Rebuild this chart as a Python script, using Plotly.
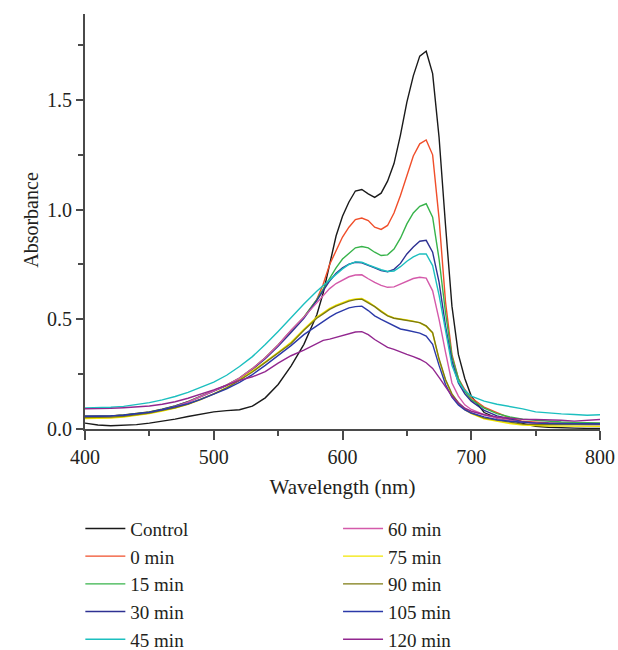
import plotly.graph_objects as go

wavelength = [400, 410, 420, 430, 440, 450, 460, 470, 480, 490, 500, 510, 520, 530, 540, 550, 560, 570,
              580, 585, 590, 595, 600, 605, 610, 615, 620, 625, 630, 635, 640, 645, 650, 655, 660, 665,
              670, 675, 680, 685, 690, 695, 700, 710, 720, 730, 740, 750, 760, 770, 780, 790, 800]

control = [0.027, 0.018, 0.015, 0.016, 0.020, 0.027, 0.035, 0.045, 0.057, 0.068, 0.078, 0.084, 0.088, 0.104,
           0.142, 0.203, 0.287, 0.386, 0.520, 0.620, 0.750, 0.880, 0.970, 1.035, 1.085, 1.092, 1.072, 1.056,
           1.075, 1.130, 1.210, 1.340, 1.490, 1.610, 1.700, 1.722, 1.620, 1.330, 0.930, 0.560, 0.340, 0.230,
           0.150, 0.075, 0.050, 0.042, 0.025, 0.012, 0.008, 0.005, 0.004, 0.003, 0.003]
min0 = [0.058, 0.058, 0.060, 0.064, 0.070, 0.078, 0.090, 0.105, 0.125, 0.150, 0.176, 0.200, 0.232, 0.275,
        0.325, 0.383, 0.448, 0.510, 0.590, 0.660, 0.750, 0.815, 0.875, 0.920, 0.955, 0.962, 0.950, 0.920,
        0.910, 0.928, 0.985, 1.065, 1.160, 1.245, 1.300, 1.318, 1.250, 0.960, 0.580, 0.340, 0.230, 0.180,
        0.142, 0.100, 0.075, 0.050, 0.035, 0.030, 0.028, 0.027, 0.026, 0.025, 0.025]
min15 = [0.058, 0.058, 0.060, 0.064, 0.070, 0.078, 0.090, 0.105, 0.125, 0.150, 0.176, 0.200, 0.232, 0.275,
         0.325, 0.383, 0.448, 0.510, 0.590, 0.640, 0.690, 0.735, 0.775, 0.800, 0.826, 0.832, 0.826, 0.806,
         0.791, 0.794, 0.820, 0.870, 0.935, 0.985, 1.015, 1.027, 0.966, 0.775, 0.530, 0.330, 0.230, 0.170,
         0.134, 0.095, 0.070, 0.055, 0.045, 0.040, 0.035, 0.032, 0.030, 0.028, 0.028]
min30 = [0.057, 0.057, 0.059, 0.063, 0.069, 0.077, 0.089, 0.104, 0.123, 0.148, 0.173, 0.198, 0.229, 0.271,
         0.320, 0.377, 0.440, 0.505, 0.585, 0.630, 0.675, 0.710, 0.735, 0.752, 0.760, 0.758, 0.748, 0.735,
         0.722, 0.717, 0.728, 0.755, 0.798, 0.830, 0.856, 0.860, 0.806, 0.670, 0.470, 0.310, 0.210, 0.160,
         0.127, 0.085, 0.060, 0.045, 0.032, 0.028, 0.026, 0.025, 0.024, 0.024, 0.024]
min45 = [0.096, 0.097, 0.099, 0.103, 0.110, 0.120, 0.133, 0.148, 0.167, 0.190, 0.214, 0.245, 0.285, 0.330,
         0.385, 0.445, 0.510, 0.570, 0.628, 0.655, 0.680, 0.705, 0.730, 0.750, 0.762, 0.760, 0.748, 0.736,
         0.726, 0.718, 0.720, 0.740, 0.765, 0.785, 0.798, 0.798, 0.745, 0.610, 0.440, 0.290, 0.215, 0.175,
         0.150, 0.127, 0.113, 0.103, 0.092, 0.078, 0.072, 0.069, 0.066, 0.063, 0.065]
min60 = [0.050, 0.050, 0.052, 0.057, 0.064, 0.073, 0.086, 0.102, 0.122, 0.147, 0.174, 0.200, 0.232, 0.275,
         0.325, 0.383, 0.450, 0.510, 0.575, 0.610, 0.640, 0.663, 0.680, 0.694, 0.702, 0.703, 0.685, 0.668,
         0.655, 0.646, 0.648, 0.660, 0.675, 0.686, 0.692, 0.688, 0.630, 0.500, 0.350, 0.210, 0.150, 0.110,
         0.089, 0.065, 0.050, 0.040, 0.030, 0.026, 0.024, 0.022, 0.021, 0.020, 0.020]
min75 = [0.048, 0.048, 0.050, 0.055, 0.061, 0.070, 0.082, 0.095, 0.112, 0.134, 0.160, 0.189, 0.224, 0.263,
         0.306, 0.350, 0.395, 0.455, 0.510, 0.530, 0.550, 0.565, 0.577, 0.587, 0.593, 0.595, 0.580, 0.560,
         0.537, 0.518, 0.506, 0.500, 0.497, 0.492, 0.484, 0.468, 0.436, 0.315, 0.222, 0.155, 0.115, 0.088,
         0.070, 0.046, 0.035, 0.025, 0.018, 0.015, 0.014, 0.013, 0.012, 0.012, 0.012]
min90 = [0.052, 0.052, 0.054, 0.058, 0.064, 0.073, 0.085, 0.097, 0.113, 0.135, 0.160, 0.188, 0.222, 0.260,
         0.302, 0.345, 0.390, 0.450, 0.505, 0.525, 0.545, 0.560, 0.572, 0.583, 0.590, 0.592, 0.575, 0.558,
         0.535, 0.516, 0.505, 0.500, 0.497, 0.493, 0.485, 0.470, 0.440, 0.320, 0.226, 0.160, 0.120, 0.092,
         0.073, 0.050, 0.040, 0.030, 0.022, 0.020, 0.020, 0.020, 0.020, 0.020, 0.020]
min105 = [0.058, 0.058, 0.060, 0.063, 0.068, 0.076, 0.087, 0.100, 0.115, 0.135, 0.158, 0.183, 0.213, 0.248,
          0.290, 0.333, 0.380, 0.430, 0.472, 0.490, 0.510, 0.527, 0.540, 0.552, 0.558, 0.560, 0.540, 0.516,
          0.500, 0.485, 0.468, 0.456, 0.450, 0.445, 0.437, 0.424, 0.386, 0.290, 0.203, 0.145, 0.110, 0.087,
          0.073, 0.055, 0.042, 0.035, 0.030, 0.027, 0.025, 0.024, 0.023, 0.023, 0.023]
min120 = [0.092, 0.092, 0.094, 0.097, 0.100, 0.105, 0.113, 0.124, 0.140, 0.158, 0.178, 0.200, 0.222, 0.238,
          0.262, 0.300, 0.334, 0.360, 0.388, 0.404, 0.410, 0.418, 0.427, 0.435, 0.442, 0.444, 0.430, 0.408,
          0.390, 0.372, 0.363, 0.350, 0.340, 0.330, 0.318, 0.302, 0.276, 0.235, 0.195, 0.150, 0.120, 0.095,
          0.081, 0.065, 0.055, 0.048, 0.044, 0.043, 0.043, 0.040, 0.036, 0.038, 0.043]

series_names = ["Control", "0 min", "15 min", "30 min", "45 min",
                "60 min", "75 min", "90 min", "105 min", "120 min"]
series_values = [control, min0, min15, min30, min45, min60, min75, min90, min105, min120]
series_colors = ["#1a1a1a", "#f04e2a", "#37b34a", "#2e3192", "#1cbfbf",
                 "#d45aaa", "#f2e600", "#7d7a10", "#2b39a8", "#92278f"]

x_tickvals = [400, 500, 600, 700, 800]
y_tickvals = [0.0, 0.5, 1.0, 1.5]
y_ticktext = ["0.0", "0.5", "1.0", "1.5"]

FONT = "Liberation Serif"
TXT = "#231f20"
AX = "#4a4a4a"

fig = go.Figure()
for i, (name, vals, col) in enumerate(zip(series_names, series_values, series_colors)):
    fig.add_trace(go.Scatter(
        x=wavelength, y=vals, mode="lines", name=name,
        line=dict(color=col, width=1.4),
        legend="legend" if i < 5 else "legend2",
    ))

legend_common = dict(
    font=dict(family=FONT, size=19, color=TXT),
    bgcolor="rgba(0,0,0,0)", borderwidth=0,
    xanchor="left", yanchor="top", xref="container", yref="container",
    orientation="v", traceorder="normal", itemwidth=40,
)

fig.update_layout(
    width=618, height=650,
    margin=dict(l=85, r=18, t=14, b=221, autoexpand=False),
    paper_bgcolor="white", plot_bgcolor="white",
    font=dict(family=FONT, size=20, color=TXT),
    showlegend=True,
    legend=dict(x=0.13, y=0.216, **legend_common),
    legend2=dict(x=0.547, y=0.216, **legend_common),
    xaxis=dict(
        range=[400, 800], showgrid=False, zeroline=False,
        showline=True, linecolor=AX, linewidth=2,
        ticks="outside", ticklen=9, tickwidth=1.5, tickcolor=AX,
        tickvals=x_tickvals, ticktext=[str(v) for v in x_tickvals],
        minor=dict(dtick=50, tick0=400, ticks="outside", ticklen=5, tickwidth=1.5, tickcolor=AX, showgrid=False),
        tickfont=dict(family=FONT, size=20, color=TXT),
        title=dict(text="Wavelength (nm)", font=dict(family=FONT, size=21, color=TXT), standoff=12),
    ),
    yaxis=dict(
        range=[0, 1.892], showgrid=False, zeroline=False,
        showline=True, linecolor=AX, linewidth=2,
        ticks="outside", ticklen=7, tickwidth=1.5, tickcolor=AX,
        tickvals=y_tickvals, ticktext=y_ticktext,
        minor=dict(dtick=0.25, tick0=0, ticks="outside", ticklen=5, tickwidth=1.5, tickcolor=AX, showgrid=False),
        tickfont=dict(family=FONT, size=20, color=TXT),
    ),
    annotations=[dict(
        text="Absorbance", textangle=-90, showarrow=False,
        xref="paper", yref="paper", x=-0.105, y=0.504,
        xanchor="center", yanchor="middle",
        font=dict(family=FONT, size=20, color=TXT),
    )],
)

fig.write_html("out.html")
